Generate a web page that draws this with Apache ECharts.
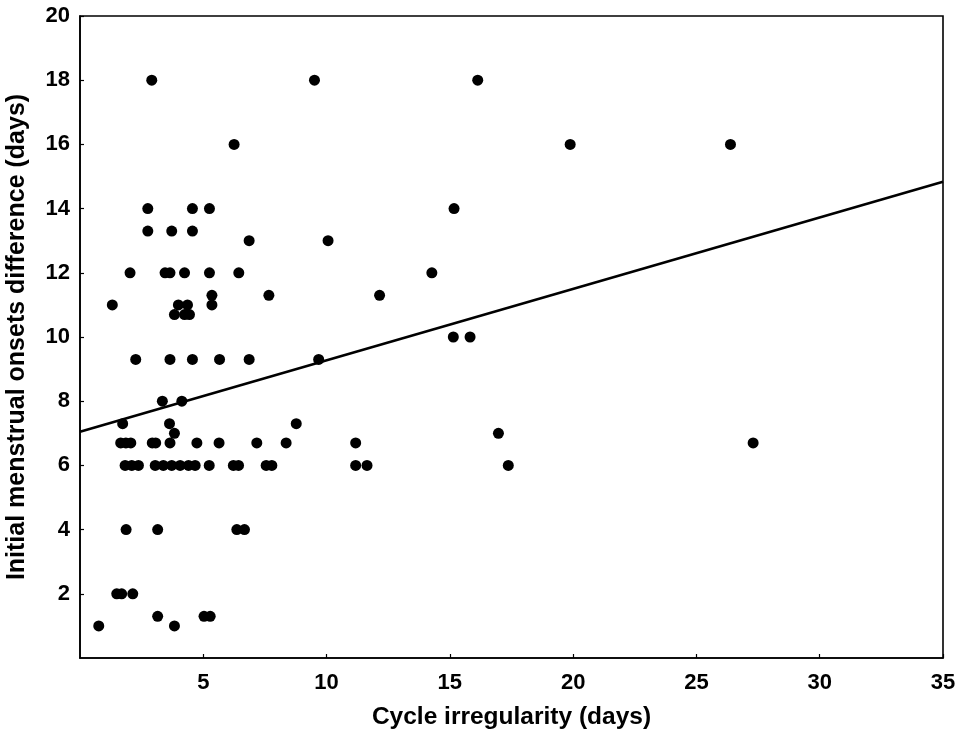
<!DOCTYPE html>
<html>
<head>
<meta charset="utf-8">
<script src="https://cdn.jsdelivr.net/npm/echarts@6/dist/echarts.min.js"></script>
<style>html,body{margin:0;padding:0;background:#fff}#c{width:962px;height:738px}</style>
</head>
<body>
<div id="c"></div>
<script>
// Scatter points: cycle irregularity (x) and onset difference (y)
const xValues = [
  2.91, 9.51, 16.13,
  6.25, 19.88, 26.38,
  2.75, 4.56, 5.25, 15.17,
  2.75, 3.72, 4.56,
  6.86, 10.06,
  2.03, 3.45, 3.65, 4.24, 5.25, 6.44, 14.27,
  5.35, 7.66, 12.15,
  1.31, 3.99, 4.36, 5.35,
  3.83, 4.24, 4.44,
  15.14, 15.82,
  2.26, 3.65, 4.56, 5.66, 6.86, 9.68,
  3.34, 4.13,
  1.73, 3.63, 8.77,
  3.83, 16.97,
  1.65, 1.86, 2.06, 2.93, 3.07, 3.65, 4.74, 5.64, 7.17, 8.36, 11.18, 27.30,
  1.83, 2.10, 2.37, 3.05, 3.38, 3.72, 4.06, 4.40, 4.67, 5.24, 6.22, 6.43, 7.55, 7.78, 11.18, 11.64, 17.37,
  1.87, 3.15, 6.36, 6.67,
  1.49, 1.69, 2.14,
  3.15, 5.03, 5.28,
  0.76, 3.83
];
const yValues = [
  18, 18, 18,
  16, 16, 16,
  14, 14, 14, 14,
  13.3, 13.3, 13.3,
  13, 13,
  12, 12, 12, 12, 12, 12, 12,
  11.3, 11.3, 11.3,
  11, 11, 11, 11,
  10.7, 10.7, 10.7,
  10, 10,
  9.3, 9.3, 9.3, 9.3, 9.3, 9.3,
  8, 8,
  7.3, 7.3, 7.3,
  7, 7,
  6.7, 6.7, 6.7, 6.7, 6.7, 6.7, 6.7, 6.7, 6.7, 6.7, 6.7, 6.7,
  6, 6, 6, 6, 6, 6, 6, 6, 6, 6, 6, 6, 6, 6, 6, 6, 6,
  4, 4, 4, 4,
  2, 2, 2,
  1.3, 1.3, 1.3,
  1, 1
];
// Regression line end points
const lineX = [0, 35];
const lineY = [7.05, 14.84];
// Axis tick settings
const xTicks = { min: 0, max: 35, interval: 5 };
const yTicks = { min: 0, max: 20, interval: 2 };

const points = xValues.map((x, i) => [x, yValues[i]]);
const linePts = lineX.map((x, i) => [x, lineY[i]]);

const chart = echarts.init(document.getElementById('c'), null, { renderer: 'canvas' });
const font = 'Liberation Sans, Arial, sans-serif';
chart.setOption({
  backgroundColor: '#ffffff',
  animation: false,
  grid: { left: 80, right: 19, top: 16, bottom: 80, containLabel: false, outerBoundsMode: 'none', show: true, borderColor: '#000', borderWidth: 1.6, backgroundColor: 'transparent' },
  xAxis: {
    type: 'value', min: xTicks.min, max: xTicks.max, interval: xTicks.interval,
    name: 'Cycle irregularity (days)', nameLocation: 'middle', nameGap: 47,
    nameTextStyle: { fontFamily: font, fontWeight: 'bold', fontSize: 24.5, color: '#000' },
    axisLine: { show: true, lineStyle: { color: '#000', width: 1.6 } },
    axisTick: { show: true, inside: true, length: 4, lineStyle: { color: '#000', width: 1.2 } },
    axisLabel: { showMinLabel: false, margin: 14, fontFamily: font, fontWeight: 'bold', fontSize: 22, color: '#000' },
    splitLine: { show: false }
  },
  yAxis: {
    type: 'value', min: yTicks.min, max: yTicks.max, interval: yTicks.interval,
    name: 'Initial menstrual onsets difference (days)', nameLocation: 'middle', nameGap: 50, nameRotate: 90,
    nameTextStyle: { fontFamily: font, fontWeight: 'bold', fontSize: 25, color: '#000' },
    axisLine: { show: true, lineStyle: { color: '#000', width: 1.6 } },
    axisTick: { show: true, inside: true, length: 4, lineStyle: { color: '#000', width: 1.2 } },
    axisLabel: { showMinLabel: false, margin: 10, fontFamily: font, fontWeight: 'bold', fontSize: 22, color: '#000' },
    splitLine: { show: false }
  },
  series: [
    {
      type: 'scatter', data: points, symbol: 'circle', symbolSize: 11,
      itemStyle: { color: '#000', opacity: 1 }, z: 3
    },
    {
      type: 'line', data: linePts, symbol: 'none', showSymbol: false,
      lineStyle: { color: '#000', width: 2.6 }, z: 2
    }
  ]
});
</script>
</body>
</html>
